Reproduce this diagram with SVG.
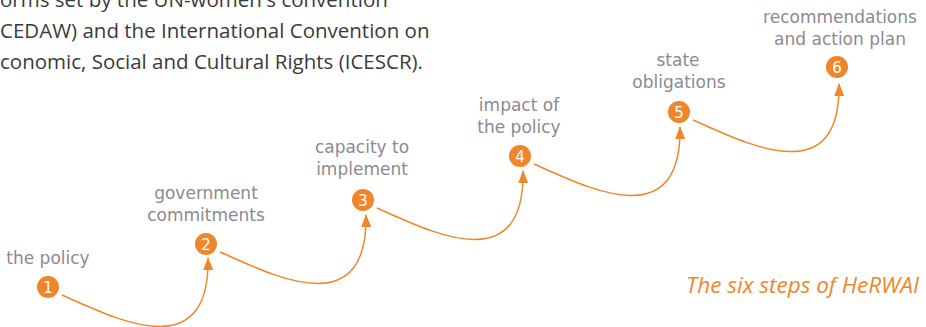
<svg xmlns="http://www.w3.org/2000/svg" width="926" height="327" viewBox="0 0 926 327">
<style>
.para{font-family:"Open Sans","Liberation Sans",sans-serif;font-size:20.5px;fill:#3b3a3c}
.lbl{font-family:"DejaVu Sans","Liberation Sans",sans-serif;font-size:17px;fill:#8c8991;text-anchor:middle}
.dot{fill:#f0862a}
.num{font-family:"DejaVu Sans","Liberation Sans",sans-serif;font-size:15px;fill:#ffffff;text-anchor:middle}
.conn{fill:none;stroke:#f0862a;stroke-width:1.5}
.cap{font-family:"Open Sans","Liberation Sans",sans-serif;font-size:22.5px;font-style:italic;fill:#f0862a;text-anchor:end}
</style>
<defs>
<marker id="ah" markerUnits="userSpaceOnUse" markerWidth="14" markerHeight="12" refX="12" refY="5" orient="auto">
<path d="M0,0 L13,5 L0,10 z" fill="#f0862a"/>
</marker>
</defs>
<g id="intro">
<text class="para" x="0" y="7">orms set by the UN-women's convention</text>
<text class="para" x="0" y="38">CEDAW) and the International Convention on</text>
<text class="para" x="0" y="69">conomic, Social and Cultural Rights (ICESCR).</text>
</g>
<g id="connectors">
<path class="conn" marker-end="url(#ah)" d="M62,295 C116,319 210,367 208,258"/>
<path class="conn" marker-end="url(#ah)" d="M220,252 C274,276 368,324 366,215"/>
<path class="conn" marker-end="url(#ah)" d="M377,208 C431,232 525,280 523,171"/>
<path class="conn" marker-end="url(#ah)" d="M534,164 C588,188 682,236 680,127"/>
<path class="conn" marker-end="url(#ah)" d="M693,120 C747,144 841,192 839,84"/>
</g>
<g id="step1">
<circle class="dot" cx="48" cy="287" r="11"/>
<text class="num" x="48" y="292.5">1</text>
<text class="lbl" x="48" y="264">the policy</text>
</g>
<g id="step2">
<circle class="dot" cx="206" cy="244" r="11"/>
<text class="num" x="206" y="249.5">2</text>
<text class="lbl" x="206" y="199">government</text>
<text class="lbl" x="206" y="221">commitments</text>
</g>
<g id="step3">
<circle class="dot" cx="363" cy="200" r="11"/>
<text class="num" x="363" y="205.5">3</text>
<text class="lbl" x="362" y="153">capacity to</text>
<text class="lbl" x="362" y="175">implement</text>
</g>
<g id="step4">
<circle class="dot" cx="520" cy="156" r="11"/>
<text class="num" x="520" y="161.5">4</text>
<text class="lbl" x="519" y="111">impact of</text>
<text class="lbl" x="519" y="133">the policy</text>
</g>
<g id="step5">
<circle class="dot" cx="679" cy="112" r="11"/>
<text class="num" x="679" y="117.5">5</text>
<text class="lbl" x="678" y="66">state</text>
<text class="lbl" x="679" y="88">obligations</text>
</g>
<g id="step6">
<circle class="dot" cx="837" cy="67" r="11"/>
<text class="num" x="837" y="72.5">6</text>
<text class="lbl" x="840" y="23">recommendations</text>
<text class="lbl" x="840" y="45">and action plan</text>
</g>
<g id="caption">
<text class="cap" x="919" y="293">The six steps of HeRWAI</text>
</g>
</svg>
